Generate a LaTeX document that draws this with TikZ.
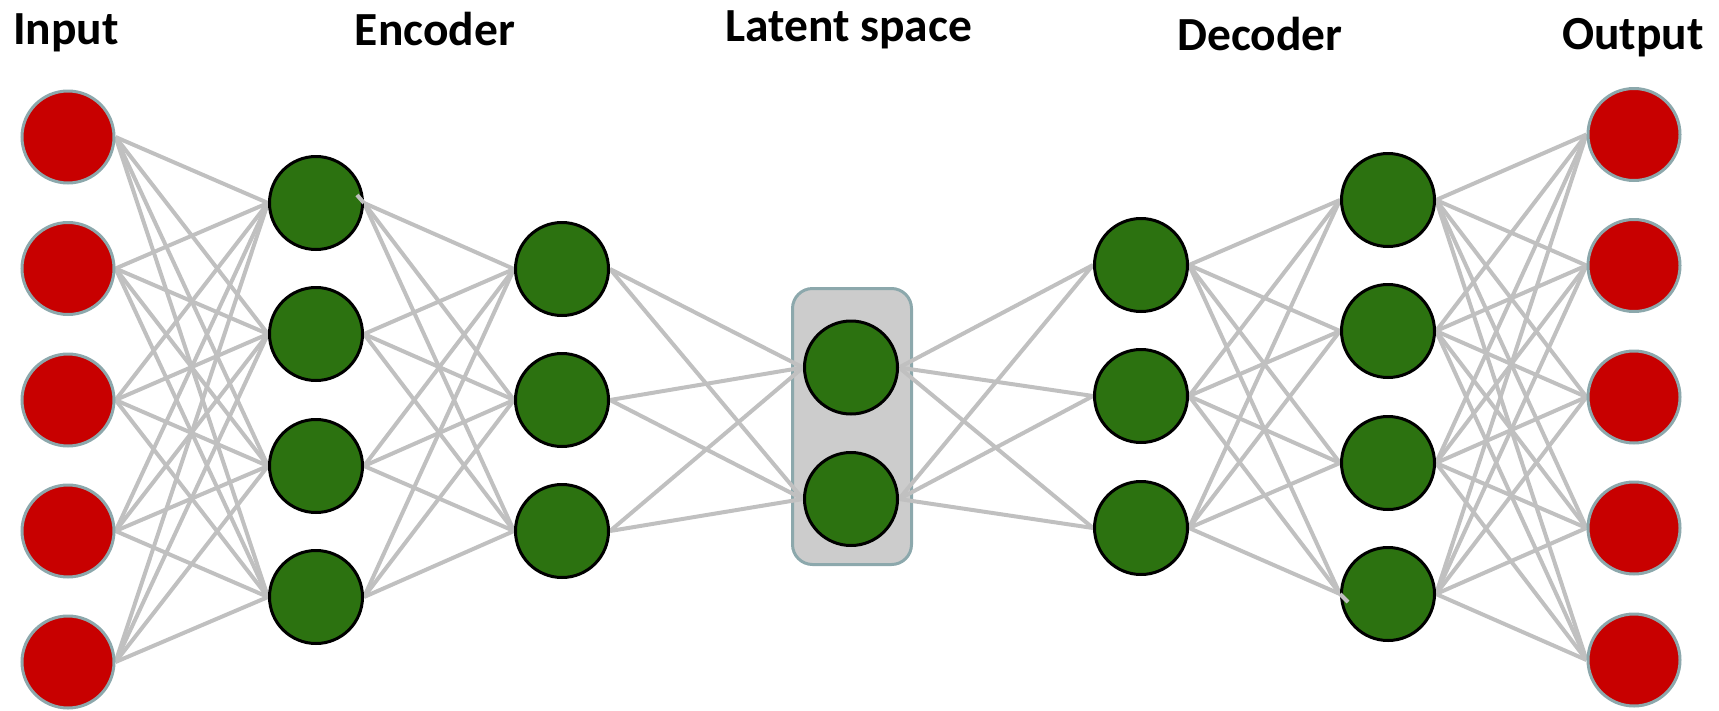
\documentclass[tikz,border=0pt]{standalone}
\usepackage{fontspec}
\setmainfont{Carlito}

\definecolor{redfill}{HTML}{C80000}
\definecolor{rimgray}{HTML}{8CA8AC}
\definecolor{greenfill}{HTML}{2C7210}
\definecolor{linkgray}{HTML}{C0C0C0}
\definecolor{boxgray}{HTML}{CCCCCC}

\pgfdeclarelayer{boxlayer}
\pgfdeclarelayer{edgelayer}
\pgfsetlayers{boxlayer,edgelayer,main}

\begin{document}
\begin{tikzpicture}[x=1pt,y=-1pt,
  io/.style={circle, fill=redfill, draw=rimgray, line width=3pt, minimum size=92pt, inner sep=0pt},
  hid/.style={circle, fill=greenfill, draw=black, line width=3pt, minimum size=93pt, inner sep=0pt},
  link/.style={draw=linkgray, line width=4pt},
  latentbox/.style={rectangle, rounded corners=20pt, fill=boxgray, draw=rimgray, line width=3pt,
                    minimum width=119pt, minimum height=276pt, inner sep=0pt},
  title/.style={anchor=base, inner sep=0pt, font=\fontsize{47.5}{52}\selectfont\bfseries}]

\useasboundingbox (0,0) rectangle (1719,710);

% layer titles
\node[title] (tin)  at (66,44)    {Input};
\node[title] (tenc) at (435,45)   {Encoder};
\node[title] (tlat) at (848.5,41.7) {Latent space};
\node[title] (tdec) at (1260,50)  {Decoder};
\node[title] (tout) at (1633,49)  {Output};

% input layer
\foreach \i/\y in {1/137,2/268.5,3/400,4/531,5/662}
  \node[io] (in\i) at (68,\y) {};
% encoder layers
\foreach \i/\y in {1/203,2/334,3/466,4/597}
  \node[hid] (ea\i) at (316,\y) {};
\foreach \i/\y in {1/269,2/400,3/531}
  \node[hid] (eb\i) at (562,\y) {};
% latent layer inside its box
\begin{pgfonlayer}{boxlayer}
  \node[latentbox] (zbox) at (852,426.5) {};
\end{pgfonlayer}
\foreach \i/\y in {1/367.5,2/499}
  \node[hid] (z\i) at (851,\y) {};
% decoder layers
\foreach \i/\y in {1/265,2/396,3/528}
  \node[hid] (da\i) at (1141,\y) {};
\foreach \i/\y in {1/200,2/331,3/463,4/594}
  \node[hid] (db\i) at (1388,\y) {};
% output layer
\foreach \i/\y in {1/134.5,2/265.5,3/397,4/528,5/660}
  \node[io] (out\i) at (1634,\y) {};

% fully connected links between consecutive layers
\begin{pgfonlayer}{edgelayer}
  \foreach \a in {1,...,5} \foreach \b in {1,...,4}
    \draw[link] (in\a.east) -- (ea\b.west);
  \foreach \a in {1,...,4} \foreach \b in {1,...,3}
    \draw[link] (ea\a.east) -- (eb\b.west);
  \foreach \a in {1,...,3} \foreach \b in {1,2}
    \draw[link] (eb\a.east) -- (z\b.west);
  \foreach \a in {1,2} \foreach \b in {1,...,3}
    \draw[link] (z\a.east) -- (da\b.west);
  \foreach \a in {1,...,3} \foreach \b in {1,...,4}
    \draw[link] (da\a.east) -- (db\b.west);
  \foreach \a in {1,...,4} \foreach \b in {1,...,5}
    \draw[link] (db\a.east) -- (out\b.west);
\end{pgfonlayer}

% two short link ends that overlap their neurons
\coordinate (s1) at (357,195);
\coordinate (s2) at (1348,602);
\draw[link] (s1) -- (ea1.east);
\draw[link] (db4.west) -- (s2);
\end{tikzpicture}
\end{document}
